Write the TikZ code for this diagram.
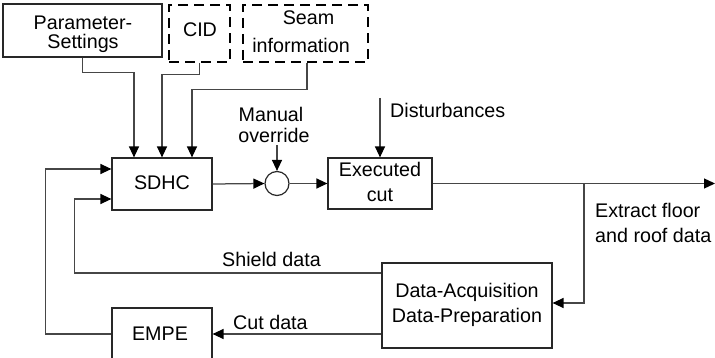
\documentclass[tikz,border=0pt]{standalone}
\usepackage{fontspec}
\setmainfont{Liberation Sans}
\usetikzlibrary{arrows.meta,calc}
\definecolor{linec}{RGB}{70,70,70}
\definecolor{boxc}{RGB}{40,40,40}
\begin{document}
\begin{tikzpicture}[x=1pt,y=-1pt,
  box/.style={draw=boxc,line width=1.2pt,inner sep=0pt},
  dbox/.style={draw=black,line width=2.7pt,inner sep=0pt,dash pattern=on 10pt off 6pt},
  txt/.style={inner sep=0pt,anchor=base,font=\fontsize{19.7pt}{24pt}\selectfont},
  txtw/.style={txt,anchor=base west},
  conn/.style={draw=linec,line width=1.25pt},
  arr/.style={conn,-{Triangle[length=11pt,width=10pt,color=black]}}
]
\useasboundingbox (0,0) rectangle (715,358);
\clip (0,0) rectangle (715,358);

% boxes
\node[box,minimum width=159pt,minimum height=53pt] (param) at (82.5,30.5) {};
\node[dbox,minimum width=61pt,minimum height=57pt] (cid) at (199.5,33.5) {};
\node[dbox,minimum width=125pt,minimum height=57pt] (seam) at (305.5,33.5) {};
\node[box,minimum width=100pt,minimum height=52pt] (sdhc) at (162,184) {};
\node[box,circle,minimum size=24pt] (sum) at (277,183.5) {};
\node[box,minimum width=104pt,minimum height=51pt] (exe) at (380,183.5) {};
\node[box,minimum width=170pt,minimum height=85pt] (data) at (467,305.5) {};
\node[box,minimum width=100pt,minimum height=67pt] (empe) at (162,341.5) {};

% texts
\node[txt] (t1) at (83,30) {Parameter-};
\node[txt] (t2) at (83,49) {Settings};
\node[txt] (t3) at (200,37) {CID};
\node[txt] (t4) at (308.5,25) {Seam};
\node[txt] (t5) at (301,53) {information};
\node[txt] (t6) at (271,122) {Manual};
\node[txt] (t7) at (274,143) {override};
\node[txtw] (t8) at (390,118) {Disturbances};
\node[txt] (t9) at (162,189.5) {SDHC};
\node[txt] (t10) at (380,177) {Executed};
\node[txt] (t11) at (380,202) {cut};
\node[txtw] (t12) at (595,218) {Extract floor};
\node[txtw] (t13) at (595,243) {and roof data};
\node[txtw] (t14) at (222,266) {Shield data};
\node[txtw] (t15) at (233,329) {Cut data};
\node[txt] (t16) at (467,297) {Data-Acquisition};
\node[txt] (t17) at (467,322) {Data-Preparation};
\node[txt] (t18) at (160,340) {EMPE};

% free ends
\coordinate (mo) at (277,145);
\coordinate (dist) at (380,98);
\coordinate (out) at (715,183.5);
\coordinate (br) at (584,183.5);

% connectors
\draw[arr] (param.south) -- ++(0,15) -| ([xshift=-28pt]sdhc.north);
\draw[arr] (cid.south) -- ++(0,11.5) -| (sdhc.north);
\draw[arr] ([xshift=1.5pt]seam.south) -- ++(0,26) -| ([xshift=30pt]sdhc.north);
\draw[arr] (sdhc.east) -- (sum.west);
\draw[arr] (sum.east) -- (exe.west);
\draw[arr] (mo) -- (sum.north);
\draw[arr] (dist) -- (exe.north);
\draw[arr] (exe.east) -- (out);
\draw[arr] (br) |- ([yshift=2.5pt]data.east);
\draw[arr] ([yshift=32.5pt]data.west) -- ++(-307,0) |- ([yshift=-15pt]sdhc.west);
\draw[arr] ([yshift=-28.5pt]data.west) -- ([yshift=-28.5pt]data.west -| empe.east);
\draw[arr] ([yshift=7.5pt]empe.west) -- ++(-66,0) |- ([yshift=15pt]sdhc.west);
\end{tikzpicture}
\end{document}
